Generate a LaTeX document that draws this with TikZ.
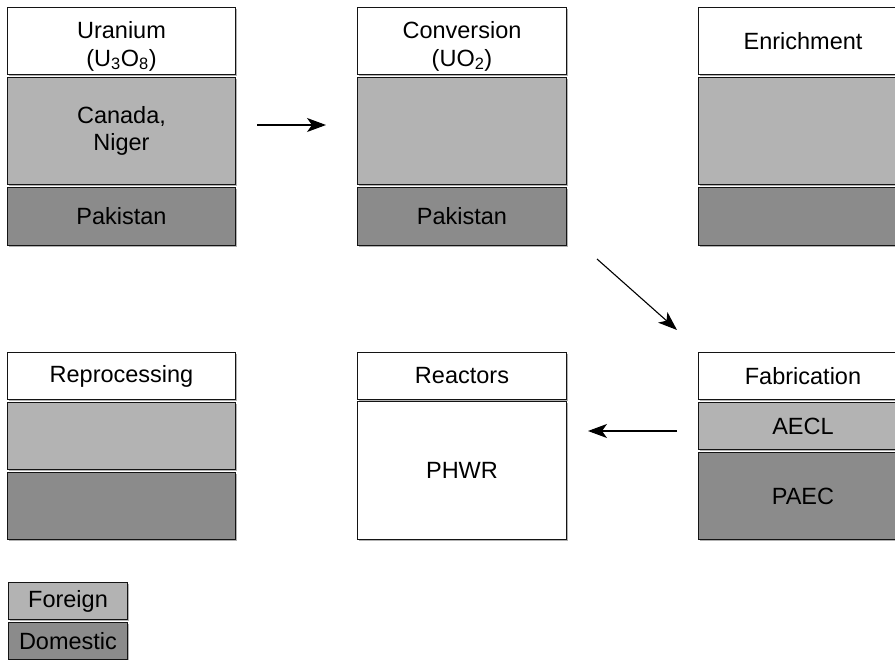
\documentclass[tikz,border=0pt]{standalone}
\usepackage{fontspec}
\setmainfont{Liberation Sans}
\usetikzlibrary{arrows.meta,shadows}

\definecolor{foreignfill}{RGB}{179,179,179}
\definecolor{domesticfill}{RGB}{139,139,139}
\definecolor{edge}{RGB}{20,20,20}

\begin{document}
\begin{tikzpicture}[x=1pt,y=-1pt,
  cell/.style={draw=edge, line width=1pt, rectangle, anchor=north west,
    inner sep=0pt, align=center, text=black,
    font=\fontsize{23.5}{27}\selectfont,
    drop shadow={shadow xshift=1.2pt, shadow yshift=-1.2pt, fill=black!30, opacity=1}},
  titlecell/.style={cell, fill=white},
  foreigncell/.style={cell, fill=foreignfill},
  domesticcell/.style={cell, fill=domesticfill},
  bodycell/.style={cell, fill=white},
  flow/.style={line width=1.1pt, -{Stealth[length=19pt, width=14pt, inset=5pt]}}
]
\useasboundingbox (0,0) rectangle (895,660);
\clip (0,0) rectangle (895,660);

% ---- upper row: uranium, conversion, enrichment ----
\node[titlecell, minimum width=228pt, minimum height=67pt] (uraT) at (7,7)
  {\rule{0pt}{27pt}Uranium\\[1pt](U\textsubscript{3}O\textsubscript{8})};
\node[foreigncell, minimum width=228pt, minimum height=107pt] (uraF) at (7,77)
  {Canada,\\Niger};
\node[domesticcell, minimum width=228pt, minimum height=58pt] (uraD) at (7,187)
  {Pakistan};

\node[titlecell, minimum width=209pt, minimum height=67pt] (convT) at (357,7)
  {\rule{0pt}{27pt}Conversion\\[1pt](UO\textsubscript{2})};
\node[foreigncell, minimum width=209pt, minimum height=107pt] (convF) at (357,77) {};
\node[domesticcell, minimum width=209pt, minimum height=58pt] (convD) at (357,187)
  {Pakistan};

\node[titlecell, minimum width=209pt, minimum height=67pt] (enrT) at (698,7)
  {Enrichment};
\node[foreigncell, minimum width=209pt, minimum height=107pt] (enrF) at (698,77) {};
\node[domesticcell, minimum width=209pt, minimum height=58pt] (enrD) at (698,187) {};

% ---- lower row: reprocessing, reactors, fabrication ----
\node[titlecell, minimum width=228pt, minimum height=47pt] (repT) at (7,352)
  {Reprocessing};
\node[foreigncell, minimum width=228pt, minimum height=67pt] (repF) at (7,402) {};
\node[domesticcell, minimum width=228pt, minimum height=67pt] (repD) at (7,472) {};

\node[titlecell, minimum width=209pt, minimum height=47pt] (reacT) at (357,352)
  {Reactors};
\node[bodycell, minimum width=209pt, minimum height=138pt] (reacB) at (357,401)
  {PHWR};

\node[titlecell, minimum width=209pt, minimum height=47pt] (fabT) at (698,352)
  {Fabrication};
\node[foreigncell, minimum width=209pt, minimum height=47pt] (fabF) at (698,402)
  {AECL};
\node[domesticcell, minimum width=209pt, minimum height=87pt] (fabD) at (698,452)
  {PAEC};

% ---- legend ----
\node[foreigncell, minimum width=119pt, minimum height=37pt] (legF) at (8,582)
  {Foreign};
\node[domesticcell, minimum width=119pt, minimum height=37pt] (legD) at (8,622)
  {Domestic};

% ---- flow arrows between stages ----
\coordinate (f1s) at (257,125);
\coordinate (f1e) at (326,125);
\coordinate (f2s) at (597,259);
\coordinate (f2e) at (677,330);
\coordinate (f3s) at (677,431);
\coordinate (f3e) at (588,431);
\draw[flow] (f1s) -- (f1e);
\draw[flow] (f2s) -- (f2e);
\draw[flow] (f3s) -- (f3e);
\end{tikzpicture}
\end{document}
